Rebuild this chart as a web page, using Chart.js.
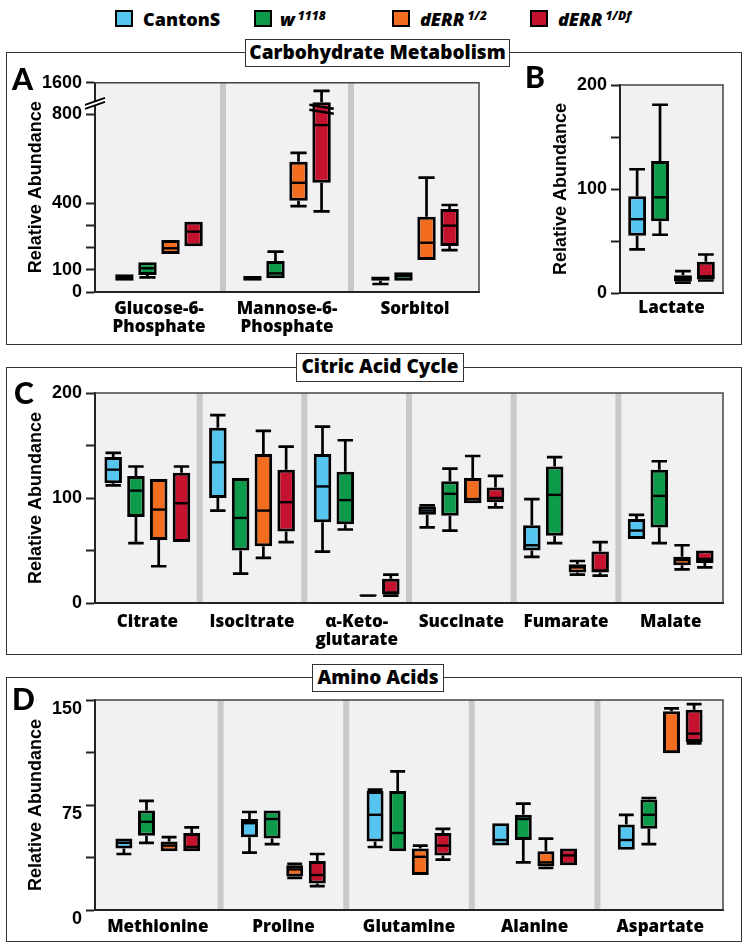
<!DOCTYPE html>
<html><head><meta charset="utf-8">
<script src="https://cdn.jsdelivr.net/npm/chart.js@4.4.1/dist/chart.umd.min.js"></script>
<style>
html,body{margin:0;padding:0;background:#fff;}
body{width:749px;height:949px;position:relative;overflow:hidden;font-family:"Open Sans",sans-serif;color:#000;}
.frame{position:absolute;border:1.5px solid #333;box-sizing:border-box;}
.tbox{position:absolute;border:1.5px solid #333;background:#fff;box-sizing:border-box;font-weight:800;font-size:19px;text-align:center;z-index:5;line-height:24px;}
canvas{position:absolute;z-index:2;}
.letter{position:absolute;font-family:Lato,"Liberation Sans",Arial,sans-serif;font-weight:900;font-size:30px;line-height:30px;z-index:6;}
.sq{position:absolute;top:10px;width:18px;height:17px;border:2px solid #000;box-sizing:border-box;}
.lt{position:absolute;top:7px;font-weight:800;font-size:18px;line-height:24px;white-space:nowrap;}
.lt i{font-style:italic;}
.lt sup{font-size:12px;font-style:italic;position:relative;top:-3px;vertical-align:top;margin-left:3px;}
</style>
</head><body>

<div class="sq" style="left:115px;background:#55c6f0"></div><div class="lt" style="left:143px">CantonS</div>
<div class="sq" style="left:254px;background:#0d9b4b"></div><div class="lt" style="left:280px"><i>w</i><sup>1118</sup></div>
<div class="sq" style="left:392px;background:#f36d21"></div><div class="lt" style="left:420px"><i>dERR</i><sup>1/2</sup></div>
<div class="sq" style="left:530px;background:#c4122f"></div><div class="lt" style="left:558px"><i>dERR</i><sup>1/Df</sup></div>

<div class="frame" style="left:6px;top:52px;width:736px;height:293px"></div>
<div class="tbox" style="left:245px;top:39px;width:265px;height:28px">Carbohydrate Metabolism</div>
<div class="frame" style="left:6px;top:367px;width:736px;height:288px"></div>
<div class="tbox" style="left:296px;top:353px;width:168px;height:29px">Citric Acid Cycle</div>
<div class="frame" style="left:6px;top:677px;width:736px;height:265px"></div>
<div class="tbox" style="left:312px;top:664px;width:132px;height:28px">Amino Acids</div>

<div class="letter" style="left:12px;top:63px">A</div>
<div class="letter" style="left:525px;top:61px">B</div>
<div class="letter" style="left:14px;top:377px">C</div>
<div class="letter" style="left:12px;top:683px">D</div>

<canvas id="cA" width="490" height="285" style="left:0px;top:60px;width:490px;height:285px"></canvas>
<canvas id="cB" width="249" height="285" style="left:500px;top:60px;width:249px;height:285px"></canvas>
<canvas id="cC" width="749" height="280" style="left:0px;top:375px;width:749px;height:280px"></canvas>
<canvas id="cD" width="749" height="257" style="left:0px;top:685px;width:749px;height:257px"></canvas>

<script>
// ---------- data: each box = [min, q1, median, q3, max] ----------
const GENOTYPES = ["CantonS", "w1118", "dERR1/2", "dERR1/Df"];
const COLORS = ["#55c6f0", "#0d9b4b", "#f36d21", "#c4122f"];

// Panel A – carbohydrate metabolism (broken axis above ~830)
const carbCats = [["Glucose-6-", "Phosphate"], ["Mannose-6-", "Phosphate"], "Sorbitol"];
const carbCantonS = [[50, 51, 66, 80, 80], [51, 51, 62, 72, 72], [36, 51, 60, 70, 72]];
const carbW1118   = [[66, 77, 107, 134, 136], [60, 62, 84, 140, 182], [51, 51, 72, 89, 89]];
const carbERR12   = [[169, 171, 197, 234, 236], [387, 411, 492, 587, 627], [142, 144, 222, 339, 515]];
const carbERR1Df  = [[204, 206, 272, 317, 320], [363, 492, 752, 1000, 1350], [189, 207, 299, 374, 392]];
const carbTicks = [0, 100, 200, 300, 400, 800, 1600];
const carbTickLabels = ["0", "100", "", "", "400", "800", "1600"];
const carbBreak = 830;

// Panel B – lactate
const lacCats = ["Lactate"];
const lacCantonS = [[42, 55, 71, 93, 119]];
const lacW1118   = [[56, 69, 92, 127, 181]];
const lacERR12   = [[10, 11, 14, 17, 21]];
const lacERR1Df  = [[12, 13, 16, 30, 37]];
const lacTicks = [0, 50, 100, 150, 200];
const lacTickLabels = ["0", "", "100", "", "200"];

// Panel C – citric acid cycle
const tcaCats = ["Citrate", "Isocitrate", ["\u03b1-Keto-", "glutarate"], "Succinate", "Fumarate", "Malate"];
const tcaCantonS = [[112, 114, 127, 139, 143], [88, 100, 134, 167, 179], [49, 77, 111, 142, 168], [72, 84, 88, 92, 93], [44, 50, 55, 74, 99], [61, 61, 69, 80, 84]];
const tcaW1118   = [[57, 82, 107, 121, 130], [28, 50, 81, 119, 119], [70, 75, 98, 125, 155], [69, 83, 104, 116, 128], [57, 64, 103, 130, 139], [57, 72, 102, 127, 135]];
const tcaERR12   = [[35, 60, 89, 118, 118], [43, 54, 88, 142, 164], [6, 6.5, 7, 8, 8.5], [95, 95, 99, 119, 140], [27, 29, 34, 37, 40], [32, 36, 41, 44, 55]];
const tcaERR1Df  = [[58, 58, 95, 124, 130], [58, 68, 96, 127, 149], [7, 8, 10, 23, 27], [91, 96, 100, 110, 121], [26, 29, 31, 49, 58], [34, 38, 42, 50, 50]];
const tcaTicks = [0, 50, 100, 150, 200];
const tcaTickLabels = ["0", "", "100", "", "200"];

// Panel D – amino acids
const aaCats = ["Methionine", "Proline", "Glutamine", "Alanine", "Aspartate"];
const aaCantonS = [[40, 44, 48, 51, 51], [41, 52, 62, 65, 70], [45, 49, 68, 85, 86], [46, 46, 50, 62, 62], [43, 43, 50, 61, 68]];
const aaW1118   = [[48, 53, 63, 71, 78], [47, 51, 65, 71, 71], [42, 42, 55, 85, 99], [34, 50, 65, 68, 76], [47, 58, 68, 79, 80]];
const aaERR12   = [[42, 42, 46, 49, 52], [23, 24, 29, 32, 33], [25, 25, 38, 44, 46], [30, 31, 34, 42, 51], [112, 112, 113, 142, 144]];
const aaERR1Df  = [[42, 42, 45, 55, 59], [17, 19, 25, 35, 40], [36, 39, 46, 55, 58], [32, 32, 39, 44, 44], [119, 120, 126, 143, 147]];
const aaTicks = [0, 37.5, 75, 112.5, 150];
const aaTickLabels = ["0", "", "75", "", "150"];

// ---------- broken-axis transform for panel A ----------
const A_TOP = 943; // display value at top of axis (labelled 1600)
function carbT(v) {
  return v <= carbBreak ? v : carbBreak + (v - carbBreak) * (A_TOP - carbBreak) / (1600 - carbBreak);
}

const NUMFONT = "'Liberation Sans', Arial, sans-serif";
const CATFONT = "'Open Sans', sans-serif";
Chart.defaults.font.family = CATFONT;

const boxPlugin = {
  id: 'boxes',
  beforeDraw(chart) {
    const {ctx, chartArea: a, scales: {x}} = chart;
    ctx.save();
    ctx.fillStyle = '#f1f1f3';
    ctx.fillRect(a.left, a.top, a.right - a.left, a.bottom - a.top);
    const n = chart.data.labels.length;
    ctx.fillStyle = '#c9c9cb';
    for (let i = 1; i < n; i++) {
      const xm = (x.getPixelForValue(i - 1) + x.getPixelForValue(i)) / 2;
      ctx.fillRect(xm - 3, a.top, 6, a.bottom - a.top);
    }
    ctx.restore();
  },
  afterDatasetsDraw(chart) {
    const {ctx, scales: {y}} = chart;
    ctx.save();
    ctx.strokeStyle = '#000';
    ctx.lineCap = 'butt';
    chart.data.datasets.forEach((ds, di) => {
      const meta = chart.getDatasetMeta(di);
      meta.data.forEach((bar, i) => {
        const s = ds.stats[i];
        const {x: cx, width: w} = bar.getProps(['x', 'width'], true);
        const [mn, q1, md, q3, mx] = s.map(v => y.getPixelForValue(v));
        const cw = w * 0.44;
        ctx.lineWidth = 2.7;
        ctx.beginPath();
        if (mx < q3 - 1) {
          ctx.moveTo(cx, q3); ctx.lineTo(cx, mx);
          ctx.moveTo(cx - cw, mx); ctx.lineTo(cx + cw, mx);
        }
        if (mn > q1 + 1) {
          ctx.moveTo(cx, q1); ctx.lineTo(cx, mn);
          ctx.moveTo(cx - cw, mn); ctx.lineTo(cx + cw, mn);
        }
        ctx.stroke();
        ctx.lineWidth = 2.4;
        ctx.beginPath();
        ctx.moveTo(cx - w / 2 + 1, md); ctx.lineTo(cx + w / 2 - 1, md);
        ctx.stroke();
      });
    });
    ctx.restore();
  },
  afterDraw(chart, args, opts) {
    const {ctx, chartArea: a, scales: {y}} = chart;
    ctx.save();
    ctx.strokeStyle = '#444';
    ctx.lineWidth = 1.5;
    ctx.beginPath();
    ctx.moveTo(a.left, a.top); ctx.lineTo(a.right, a.top); ctx.lineTo(a.right, a.bottom);
    ctx.stroke();
    if (opts && opts.breakAt !== undefined) {
      // axis break "//"
      const yb = y.getPixelForValue(opts.breakAt) - 6;
      ctx.fillStyle = '#fff';
      ctx.beginPath();
      ctx.moveTo(a.left - 10, yb + 3); ctx.lineTo(a.left + 10, yb - 4);
      ctx.lineTo(a.left + 10, yb); ctx.lineTo(a.left - 10, yb + 7);
      ctx.closePath(); ctx.fill();
      ctx.strokeStyle = '#000'; ctx.lineWidth = 1.8;
      ctx.beginPath();
      ctx.moveTo(a.left - 10, yb + 3); ctx.lineTo(a.left + 10, yb - 4);
      ctx.moveTo(a.left - 10, yb + 7); ctx.lineTo(a.left + 10, yb);
      ctx.stroke();
      // break marks on the bar that crosses the break
      const bar = chart.getDatasetMeta(opts.barDataset).data[opts.barIndex];
      const {x: cx, width: w} = bar.getProps(['x', 'width'], true);
      const yy = y.getPixelForValue(opts.breakAt);
      ctx.lineWidth = 2.4;
      ctx.beginPath();
      ctx.moveTo(cx - w / 2 - 3, yy - 3); ctx.lineTo(cx + w / 2 + 3, yy + 1);
      ctx.moveTo(cx - w / 2 - 3, yy + 2); ctx.lineTo(cx + w / 2 + 3, yy + 6);
      ctx.stroke();
    }
    ctx.restore();
  }
};

function makeBoxChart(id, cats, series, cfg) {
  const t = cfg.transform || (v => v);
  const datasets = series.map((vals, k) => ({
    label: GENOTYPES[k],
    data: vals.map(s => [t(s[1]), t(s[3])]),
    stats: vals.map(s => s.map(t)),
    backgroundColor: COLORS[k],
    borderColor: '#000',
    borderWidth: 3,
    borderSkipped: false,
    barPercentage: cfg.barPct,
    categoryPercentage: cfg.catPct
  }));
  const tickVals = cfg.ticks.map(t);
  return new Chart(document.getElementById(id), {
    type: 'bar',
    data: {labels: cats, datasets},
    options: {
      responsive: false,
      animation: false,
      events: [],
      layout: {padding: {top: cfg.padTop, right: cfg.padRight, left: 0, bottom: 0}},
      plugins: {legend: {display: false}, tooltip: {enabled: false}, boxes: cfg.breakOpts || {}},
      scales: {
        x: {
          grid: {display: true, drawOnChartArea: false, drawTicks: false},
          border: {display: true, color: '#222', width: 2},
          ticks: {font: {family: CATFONT, weight: 800, size: 17, lineHeight: 1.08}, color: '#000',
                  padding: cfg.xPad, maxRotation: 0, minRotation: 0, autoSkip: false},
          afterFit: s => { s.height = cfg.xHeight; }
        },
        y: {
          min: 0,
          max: tickVals[tickVals.length - 1],
          afterBuildTicks: s => { s.ticks = tickVals.map(v => ({value: v})); },
          ticks: {autoSkip: false, callback: (v, i) => cfg.tickLabels[i],
                  font: {family: NUMFONT, weight: 'bold', size: 18}, color: '#000', padding: 4,
                  labelOffset: cfg.labelOffset || 0},
          grid: {display: true, drawOnChartArea: false, drawTicks: true, tickLength: 9, tickColor: '#222', tickWidth: 2},
          border: {display: true, color: '#222', width: 2},
          title: {display: true, text: 'Relative Abundance', color: '#000',
                  font: {family: NUMFONT, weight: 'bold', size: 18},
                  padding: {top: cfg.titlePad, bottom: 0}},
          afterFit: s => { s.width = cfg.yWidth; }
        }
      }
    },
    plugins: [boxPlugin]
  });
}

makeBoxChart('cA', carbCats, [carbCantonS, carbW1118, carbERR12, carbERR1Df], {
  transform: carbT, ticks: carbTicks, tickLabels: carbTickLabels,
  padTop: 22.7, padRight: 11, yWidth: 95, xHeight: 53, xPad: 8, titlePad: 25,
  catPct: 0.72, barPct: 0.8,
  breakOpts: {breakAt: carbBreak, barDataset: 3, barIndex: 1}
});
makeBoxChart('cB', lacCats, [lacCantonS, lacW1118, lacERR12, lacERR1Df], {
  ticks: lacTicks, tickLabels: lacTickLabels,
  padTop: 25, padRight: 26, yWidth: 120, xHeight: 52, xPad: 6, titlePad: 50,
  catPct: 0.89, barPct: 0.78
});
makeBoxChart('cC', tcaCats, [tcaCantonS, tcaW1118, tcaERR12, tcaERR1Df], {
  ticks: tcaTicks, tickLabels: tcaTickLabels,
  padTop: 18, padRight: 26, yWidth: 95, xHeight: 52, xPad: 9.5, titlePad: 25,
  catPct: 0.87, barPct: 0.77
});
makeBoxChart('cD', aaCats, [aaCantonS, aaW1118, aaERR12, aaERR1Df], {
  ticks: aaTicks, tickLabels: aaTickLabels,
  padTop: 15, padRight: 26, yWidth: 95, xHeight: 32, xPad: 7.5, titlePad: 25,
  catPct: 0.72, barPct: 0.75, labelOffset: 9
});
</script>
</body></html>
